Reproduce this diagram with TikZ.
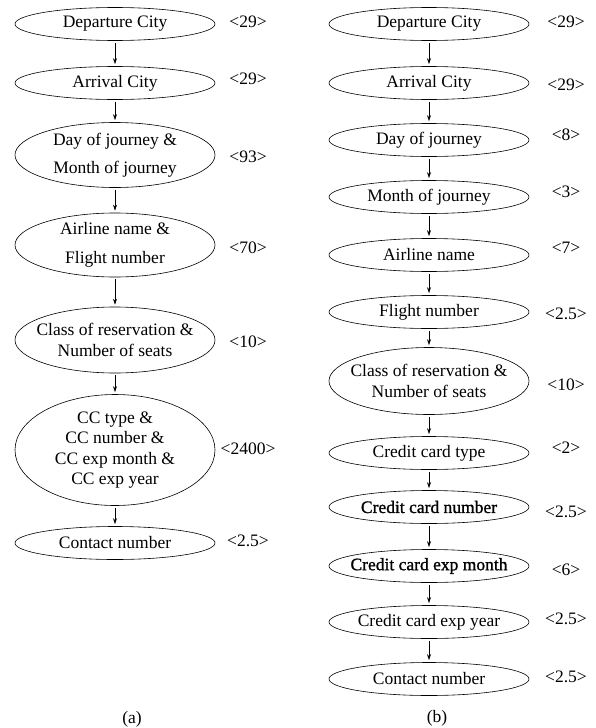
\documentclass[tikz,border=0pt]{standalone}
\usepackage{fontspec}
\setmainfont{Liberation Serif}
\newfontfamily\heavyfont[FakeBold=1.2]{Liberation Serif}
\usetikzlibrary{shapes.geometric,arrows.meta}

\newcommand*{\xa}{115}
\newcommand*{\xal}{248}
\newcommand*{\xb}{429}
\newcommand*{\xbl}{566}

\begin{document}
\begin{tikzpicture}
[
	x=1pt, y=-1pt,
	field/.style={ellipse,draw,line width=0.6pt,inner xsep=-20pt,inner ysep=-10pt,minimum width=200pt,minimum height=33pt,align=center,font=\fontsize{17.5}{20.5}\selectfont},
	cost/.style={inner sep=0pt,font=\fontsize{17.5}{20.5}\selectfont},
	flow/.style={-{Stealth[length=6pt,width=4pt]},line width=0.6pt,shorten <=2pt,shorten >=2pt}
]

	\useasboundingbox (0,0) rectangle (595,728);

	% column (a)
	\node[field] at (\xa,24) (a1) {Departure City};
	\node[field] at (\xa,83) (a2) {Arrival City};
	\node[field,minimum height=65pt] at (\xa,155) (a3) {Day of journey \&\\[8pt]Month of journey};
	\node[field,minimum height=64pt] at (\xa,245) (a4) {Airline name \&\\[8pt]Flight number};
	\node[field,minimum height=66pt] at (\xa,340) (a5) {Class of reservation \&\\Number of seats};
	\node[field,minimum height=111pt] at (\xa,450) (a6) {CC type \&\\CC number \&\\CC exp month \&\\CC exp year};
	\node[field] at (\xa,543) (a7) {Contact number};
	%
	\draw[flow] (a1.south) -- (a2.north);
	\draw[flow] (a2.south) -- (a3.north);
	\draw[flow] (a3.south) -- (a4.north);
	\draw[flow] (a4.south) -- (a5.north);
	\draw[flow] (a5.south) -- (a6.north);
	\draw[flow] (a6.south) -- (a7.north);

	% costs (a)
	\node[cost] at (\xal,22) (ca1) {<29>};
	\node[cost] at (\xal,79) (ca2) {<29>};
	\node[cost] at (\xal,157) (ca3) {<93>};
	\node[cost] at (\xal,248) (ca4) {<70>};
	\node[cost] at (\xal,342) (ca5) {<10>};
	\node[cost] at (\xal,449) (ca6) {<2400>};
	\node[cost] at (\xal,541) (ca7) {<2.5>};

	% column (b)
	\node[field] at (\xb,24) (b1) {Departure City};
	\node[field] at (\xb,83) (b2) {Arrival City};
	\node[field] at (\xb,140) (b3) {Day of journey};
	\node[field] at (\xb,197) (b4) {Month of journey};
	\node[field] at (\xb,255) (b5) {Airline name};
	\node[field] at (\xb,312) (b6) {Flight number};
	\node[field,minimum height=67pt] at (\xb,381) (b7) {Class of reservation \&\\Number of seats};
	\node[field] at (\xb,453) (b8) {Credit card type};
	\node[field] at (\xb,507) (b9) {\heavyfont Credit card number};
	\node[field] at (\xb,566) (b10) {\heavyfont\raisebox{-3pt}{Credit card exp month}};
	\node[field] at (\xb,622) (b11) {\raisebox{-4pt}{Credit card exp year}};
	\node[field] at (\xb,679) (b12) {Contact number};
	%
	\draw[flow] (b1.south) -- (b2.north);
	\draw[flow] (b2.south) -- (b3.north);
	\draw[flow] (b3.south) -- (b4.north);
	\draw[flow] (b4.south) -- (b5.north);
	\draw[flow] (b5.south) -- (b6.north);
	\draw[flow] (b6.south) -- (b7.north);
	\draw[flow] (b7.south) -- (b8.north);
	\draw[flow] (b8.south) -- (b9.north);
	\draw[flow] (b9.south) -- (b10.north);
	\draw[flow] (b10.south) -- (b11.north);
	\draw[flow] (b11.south) -- (b12.north);

	% costs (b)
	\node[cost] at (\xbl,22) (cb1) {<29>};
	\node[cost] at (\xbl,85) (cb2) {<29>};
	\node[cost] at (\xbl,135) (cb3) {<8>};
	\node[cost] at (\xbl,192) (cb4) {<3>};
	\node[cost] at (\xbl,248) (cb5) {<7>};
	\node[cost] at (\xbl,314) (cb6) {<2.5>};
	\node[cost] at (\xbl,385) (cb7) {<10>};
	\node[cost] at (\xbl,448) (cb8) {<2>};
	\node[cost] at (\xbl,512) (cb9) {<2.5>};
	\node[cost] at (\xbl,570) (cb10) {<6>};
	\node[cost] at (\xbl,619) (cb11) {<2.5>};
	\node[cost] at (\xbl,677) (cb12) {<2.5>};

	% captions
	\node[cost] at (132,719) (capa) {(a)};
	\node[cost] at (437,718) (capb) {(b)};

\end{tikzpicture}
\end{document}
